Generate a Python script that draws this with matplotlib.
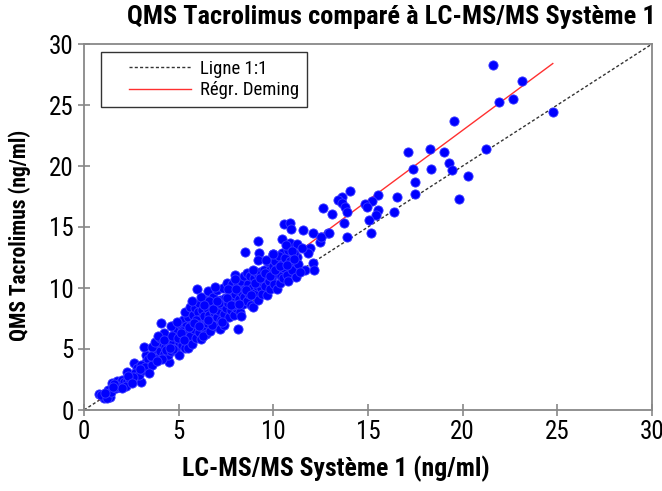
import matplotlib
matplotlib.use("Agg")
import matplotlib.pyplot as plt
from matplotlib import font_manager
from matplotlib.legend_handler import HandlerLine2D
import numpy as np

# ---------------- data ----------------
lcms = [
    # upper region
    21.62, 23.15, 21.92, 22.65, 24.76, 19.55, 18.28, 19.02, 21.24, 18.35, 19.27, 19.42, 20.27, 19.79,
    17.10, 17.36, 17.50, 17.50, 16.52, 16.36, 15.51, 15.20, 14.84, 14.93, 15.51, 15.44, 15.06, 15.18,
    14.05, 13.65, 13.44, 13.61, 13.79, 13.91, 12.61, 13.08, 13.75, 13.88, 12.90, 12.50, 12.47, 12.08,
    11.55, 11.94, 10.57, 10.88, 10.92, 12.52, 12.92, 9.18, 10.46, 10.88, 11.27, 8.50, 9.26, 9.97,
    10.44, 10.92, 11.85, 9.18, 11.23, 10.53, 11.09, 11.67, 12.11, 12.15, 10.53,
    # dense cluster
    0.79, 1.06, 1.37, 0.90, 1.27, 1.20, 1.50, 1.45,
    1.67, 1.76, 1.90, 2.00, 2.10, 2.28, 1.85, 2.20, 2.25, 2.40, 2.00, 1.60,
    2.64, 2.82, 3.00, 2.70, 2.90, 3.10, 3.26, 3.17, 3.30, 3.40, 3.50, 2.60, 3.00, 3.20,
    3.61, 4.49, 3.70, 3.80, 3.90, 4.00, 4.05, 4.10, 4.20, 4.30, 4.40, 4.45, 3.60, 3.75, 4.00, 4.20,
    4.35, 4.10, 3.90, 4.50,
    4.60, 4.70, 4.75, 4.80, 4.85, 4.90, 5.00, 5.00, 5.05, 5.10, 5.15, 5.20, 5.25, 5.30, 5.35, 5.40,
    5.45, 5.50, 5.50, 4.60, 4.90, 5.20, 5.35, 4.70, 5.45,
    5.60, 5.60, 5.65, 5.70, 5.75, 5.80, 5.85, 5.90, 5.95, 6.00, 6.00, 6.05, 6.10, 6.15, 6.20, 6.25,
    6.30, 6.35, 6.40, 6.45, 6.50, 6.50, 5.70, 6.20, 5.90, 6.30, 6.10,
    6.57, 6.60, 6.65, 6.70, 6.75, 6.80, 6.85, 6.90, 6.95, 7.00, 7.05, 7.10, 7.18, 7.20, 7.25, 7.30,
    7.35, 7.40, 7.45, 7.50, 6.60, 6.90, 7.15, 7.40, 6.75,
    7.54, 7.60, 7.65, 7.70, 7.75, 7.80, 7.85, 7.90, 7.98, 8.00, 8.05, 8.10, 8.15, 8.20, 8.25, 8.30,
    8.35, 8.40, 8.45, 8.50, 7.60, 8.00, 8.30, 7.85, 8.45,
    8.60, 8.60, 8.65, 8.70, 8.75, 8.80, 8.85, 8.94, 9.00, 9.05, 9.10, 9.15, 9.20, 9.25, 9.30, 9.35,
    9.40, 9.45, 9.50, 8.90, 9.20,
    9.55, 9.60, 9.65, 9.70, 9.75, 9.80, 9.85, 9.90, 9.95, 10.00, 10.05, 10.10, 10.15, 10.20, 10.25,
    10.30, 10.35, 10.40, 10.45, 10.50, 9.60, 10.00,
    10.55, 10.60, 10.70, 10.75, 10.80, 10.90, 11.00, 11.10, 11.20, 11.30, 11.40, 11.50, 10.65, 11.00,
    # extra fill of the dense band
    1.10, 1.55, 2.35, 2.55, 2.95, 3.45, 3.55, 3.85, 4.25, 4.55, 4.65, 4.95, 5.10, 5.30, 5.55, 5.80,
    6.05, 6.35, 6.55, 6.80, 7.00, 7.30, 7.55, 7.75, 8.05, 8.20, 8.55, 8.80, 9.05, 9.30, 9.55, 9.80,
    10.10, 10.35, 10.70, 11.10,
]
qms = [
    28.30, 27.00, 25.27, 25.47, 24.43, 23.66, 21.39, 21.17, 21.39, 19.78, 20.22, 19.67, 19.15, 17.30,
    21.17, 19.75, 18.69, 17.73, 17.50, 16.23, 17.65, 17.16, 16.89, 16.61, 16.39, 15.98, 15.57, 14.50,
    17.95, 17.46, 17.21, 16.94, 16.61, 16.26, 16.53, 16.04, 15.35, 14.15, 14.54, 14.15, 13.80, 14.50,
    14.73, 13.30, 15.25, 15.35, 14.81, 14.20, 14.48, 13.85, 13.99, 13.72, 13.63, 12.98, 12.90, 12.76,
    12.84, 12.84, 12.90, 12.30, 12.51, 12.02, 11.89, 11.48, 12.02, 11.48, 11.39,
    1.31, 0.96, 1.09, 1.20, 1.64, 1.00, 2.24, 1.50,
    1.78, 2.40, 2.20, 2.45, 2.30, 2.40, 1.90, 2.00, 3.14, 2.60, 1.80, 2.10,
    3.88, 3.41, 2.32, 3.00, 2.90, 3.30, 4.50, 5.19, 3.90, 4.20, 3.60, 2.70, 3.70, 3.50,
    3.69, 3.96, 4.60, 5.00, 4.30, 4.80, 7.10, 5.50, 4.60, 5.20, 6.00, 4.50, 5.20, 5.60, 5.90, 6.30,
    4.90, 4.20, 6.10, 5.60,
    4.80, 5.50, 6.20, 7.00, 5.10, 6.60, 5.60, 4.50, 7.10, 6.00, 6.80, 5.30, 7.40, 6.30, 5.10, 6.90,
    5.80, 7.60, 5.06, 6.90, 7.20, 6.50, 8.00, 5.00, 6.40,
    8.47, 6.10, 7.00, 5.40, 7.80, 6.60, 8.40, 5.90, 9.89, 7.20, 8.00, 6.40, 8.80, 7.50, 5.80, 8.20,
    6.80, 7.70, 9.00, 6.20, 8.40, 7.10, 8.90, 9.30, 7.40, 6.10, 7.00,
    9.78, 7.80, 6.50, 8.70, 7.30, 9.30, 8.00, 6.90, 8.50, 7.60, 9.80, 8.20, 6.64, 9.00, 7.40, 8.60,
    10.00, 7.90, 9.20, 8.40, 8.90, 10.10, 8.80, 7.00, 7.00,
    10.40, 8.80, 7.60, 9.60, 8.20, 10.30, 9.00, 7.80, 11.07, 9.50, 8.40, 10.20, 6.64, 9.10, 8.00, 10.60,
    9.60, 8.70, 11.00, 9.90, 9.90, 10.70, 7.70, 8.60, 9.30,
    11.20, 8.90, 10.30, 9.50, 11.00, 8.60, 10.00, 8.47, 10.80, 9.60, 11.30, 10.20, 9.00, 11.00, 11.34, 10.00,
    9.50, 10.60, 11.50, 11.50, 10.50,
    10.20, 11.00, 9.43, 12.10, 10.60, 11.50, 9.90, 12.40, 10.90, 11.80, 10.30, 12.20, 11.20, 9.90, 11.60,
    12.60, 10.39, 11.00, 12.00, 10.80, 12.30, 12.80,
    11.60, 12.50, 11.10, 13.10, 10.60, 12.20, 11.50, 12.90, 10.90, 12.00, 11.30, 13.30, 13.50, 13.00,
    1.40, 1.90, 2.80, 2.20, 3.40, 3.00, 4.40, 4.00, 5.70, 5.10, 6.10, 5.90, 6.30, 5.70, 6.80, 7.10,
    6.90, 8.60, 7.40, 8.30, 8.90, 7.20, 9.20, 8.60, 9.90, 8.70, 9.80, 9.40, 10.40, 10.80, 11.20, 11.00,
    11.50, 11.80, 11.90, 12.40,
]
deming_slope = 1.149
deming_intercept = -0.05
ticks = [0, 5, 10, 15, 20, 25, 30]

title = "QMS Tacrolimus comparé à LC-MS/MS Système 1"
xlabel = "LC-MS/MS Système 1 (ng/ml)"
ylabel = "QMS Tacrolimus (ng/ml)"

# ---------------- fonts: prefer a condensed face ----------------
fam = None
stretch = 'normal'
names = {f.name for f in font_manager.fontManager.ttflist}
for cand in ["Liberation Sans Narrow", "Roboto Condensed", "Open Sans Condensed",
             "Noto Sans Condensed", "DejaVu Sans Condensed", "Arial Narrow"]:
    if cand in names:
        fam = cand
        break
if fam is None:
    for f in font_manager.fontManager.ttflist:
        if str(f.stretch) in ('condensed', 'semi-condensed') and 'DejaVu Sans' == f.name:
            fam = 'DejaVu Sans'
            stretch = 'condensed'
            break
if fam is None:
    fam = 'DejaVu Sans'
plt.rcParams['font.family'] = [fam, 'DejaVu Sans']
plt.rcParams['font.stretch'] = stretch

fig = plt.figure(figsize=(6.62, 4.91), dpi=100)
ax = fig.add_axes([84/662, 81/491, 568/662, 366/491])

x = np.array(lcms)
y = np.array(qms)

l1, = ax.plot([0, 30], [0, 30], color='#333333', lw=1.0, ls=(0, (2.2, 1.6)), zorder=1, label='Ligne 1:1')
xr = np.array([x.min(), x.max()])
l2, = ax.plot(xr, deming_slope * xr + deming_intercept, color='#ff3030', lw=1.0, zorder=1,
              label='Régr. Deming')
ax.scatter(x, y, s=44, color='#0000ff', edgecolors='#3a3aff', linewidths=0.6, zorder=3)

ax.set_xlim(0, 30)
ax.set_ylim(0, 30)
ax.set_xticks(ticks)
ax.set_yticks(ticks)
ax.tick_params(axis='both', direction='inout', length=9, width=1.2, color='#888888',
               labelsize=18, pad=3)
for s in ax.spines.values():
    s.set_color('#888888')
    s.set_linewidth(1.3)

ax.set_xlabel(xlabel, fontsize=18.5, fontweight='bold')
ax.xaxis.set_label_coords((336 - 84) / 568, (410 - 456) / 366)
ax.set_ylabel(ylabel, fontsize=15.5, fontweight='bold')
ax.yaxis.set_label_coords((31 - 84) / 568, (410 - 235) / 366)
fig.text(656/662, 1 - 17/491, title, ha='right', va='center', fontsize=19, fontweight='bold')

hm = {l1: HandlerLine2D(xpad=1.1), l2: HandlerLine2D(xpad=1.1)}
leg = ax.legend(handles=[l1, l2], handler_map=hm, loc='upper left',
                bbox_to_anchor=(17/568, 1 - 8/366), fontsize=13.5,
                frameon=True, fancybox=False, edgecolor='black', handlelength=4.4,
                borderpad=0.4, labelspacing=0.2, handletextpad=0.48, borderaxespad=0)
leg.get_frame().set_linewidth(1.0)

fig.savefig("out.png", dpi=100)
